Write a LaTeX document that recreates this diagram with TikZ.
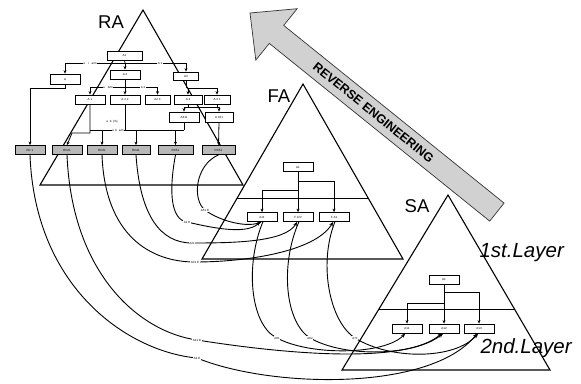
\documentclass[tikz,border=0pt]{standalone}
\usepackage{fontspec}
\setmainfont{Liberation Sans}
\usetikzlibrary{arrows.meta}
\begin{document}
\begin{tikzpicture}[x=1pt,y=-1pt,
  tri/.style={line width=1.1pt, line join=miter},
  layerline/.style={line width=0.8pt},
  blk/.style={draw, line width=0.8pt, fill=white, minimum width=30pt,
    minimum height=9pt, inner sep=0pt, font=\fontsize{3}{3}\selectfont},
  dotblk/.style={blk, fill=black!28},
  wire/.style={line width=0.8pt},
  link/.style={line width=0.8pt, -{Stealth[length=3.5pt,width=3pt]}},
  maparc/.style={line width=0.9pt, -{Stealth[length=4.5pt,width=3.5pt]}},
  tag/.style={fill=white, inner sep=0.6pt, font=\fontsize{3}{3}\selectfont},
  title/.style={font=\fontsize{18.5}{18.5}\selectfont},
  layername/.style={font=\itshape\fontsize{20.5}{20.5}\selectfont, anchor=base west}
]
\useasboundingbox[fill=white] (0,0) rectangle (581,383);

% reverse engineering block arrow
\draw[line width=0.7pt, draw=black!80, fill=black!18] (250,13) -- (297.2,8.7) -- (283.7,25.4)
  -- (504.1,203.1) -- (489.7,221.1) -- (269.3,43.4) -- (255.8,60.1) -- cycle;
\node[rotate=-38.9, font=\bfseries\fontsize{12.5}{12.5}\selectfont] (re) at (373.5,112.5) {REVERSE ENGINEERING};

% the three architecture pyramids
\draw[tri] (143,10) -- (40,185) -- (243,185) -- cycle;
\draw[tri] (303,84) -- (202,259) -- (403,259) -- cycle;
\draw[layerline] (237,198) -- (368,198);
\draw[tri] (448,195) -- (342,370) -- (550,370) -- cycle;
\draw[layerline] (379,309) -- (514,309);

\node[title] (ra) at (111,22) {RA};
\node[title] (fa) at (279,96) {FA};
\node[title] (sa) at (417,206) {SA};
\node[layername] (l1st) at (476,257) {1st.Layer};
\node[layername] (l2nd) at (477,353) {2nd.Layer};

% RA decomposition tree
\node[blk, minimum width=35pt] (t0) at (124.5,55.5) {A1};
\node[blk, minimum height=10pt] (l1) at (65,79) {A};
\node[blk] (a2) at (125,74.5) {A 2};
\node[blk, minimum width=25pt, minimum height=8pt] (r3) at (186,76) {A3};
\node[blk] (a21) at (90,99.5) {A 1};
\node[blk] (a22) at (125,99.5) {A 2 2};
\node[blk, minimum width=25pt] (a23) at (157.5,99.5) {A2 3};
\node[blk, minimum width=28pt] (a31) at (188,99.5) {A 3};
\node[blk, minimum width=26pt] (a32) at (217,99.5) {A 3 1};
\node[blk, minimum height=10pt] (a311) at (184,117) {A311};
\node[blk, minimum width=28pt, minimum height=10pt] (a321) at (219,117) {A 321};

\node[dotblk] (b1) at (30,150) {RC 1};
\node[dotblk] (b2) at (67,150) {RC21};
\node[dotblk] (b3) at (102,150) {RC31};
\node[dotblk, minimum width=28pt] (b4) at (136,150) {RC41};
\node[dotblk, minimum width=35pt] (b5) at (175.5,150) {RC51};
\node[dotblk, minimum width=33pt] (b6) at (218.5,150) {RC61};

\coordinate (t0j) at (125,63);
\draw[wire] (t0.south) -- (t0j);
\draw[wire] (l1.north |- t0j) -- (r3.north |- t0j);
\draw[link] (l1.north |- t0j) -- (l1.north);
\draw[link] (t0j) -- (a2.north);
\draw[link] (r3.north |- t0j) -- (r3.north);
\node[tag] at (90,63) {a\quad i\quad a/m};
\node[tag] at (160,63) {A 1};

\coordinate (a2j) at (125,87);
\draw[link] (a2.south) -- (a22.north);
\draw[wire] (a21.north |- a2j) -- (a23.north |- a2j);
\draw[link] (a21.north |- a2j) -- (a21.north);
\draw[link] (a23.north |- a2j) -- (a23.north);
\node[tag] at (108,87) {a\quad b/m};
\node[tag] at (143,87) {A 2};

\coordinate (r3j) at (188,88);
\draw[wire] (r3.south) -- (r3.south |- r3j);
\draw[wire] (a31.north |- r3j) -- (a32.north |- r3j);
\draw[link] (a31.north |- r3j) -- (a31.north);
\draw[link] (a32.north |- r3j) -- (a32.north);

\coordinate (a3j) at (188,107);
\draw[wire] (a31.south) -- (a3j);
\draw[wire] (a32.south) -- (a32.south |- a3j);
\draw[wire] (a311.north |- a3j) -- (a321.north |- a3j);
\draw[link] (a311.north |- a3j) -- (a311.north);
\draw[link] (a321.north |- a3j) -- (a321.north);

\coordinate (bj) at (125,130);
\draw[wire] (a311.south) -- (a311.south |- bj);
\draw[wire] (a22.south) -- (bj);
\draw[wire] (a21.south |- bj) -- (a311.south |- bj);
\draw[link] (b3.north |- bj) -- (b3.north);
\draw[link] (b4.north |- bj) -- (b4.north);
\draw[link] (b5.north |- bj) -- (b5.north);
\draw[link] (a21.south) -- (90,133) -- (72,133) -- (b2.north);
\draw[link] (a321.south) -- (b6.north);
\draw[link] (l1.south) -- ++(0,4) -| (b1.north);
\node[tag] at (112,122) {a\ \ b\ \ (m)};
\node[tag] at (118,130) {a\ \ b\ \ a/m};

% FA decomposition
\node[blk] (f0) at (298,167) {A1};
\node[blk] (f1) at (262,217) {A11};
\node[blk] (f2) at (298,217) {F A/V};
\node[blk] (f3) at (334,217) {F A1};
\coordinate (fj1) at (298,181);
\coordinate (fj2) at (298,190);
\draw[wire] (f0.south) -- (fj2);
\draw[link] (fj1) -| (f3.north);
\draw[link] (fj2) -| (f1.north);
\draw[link] (fj2) -- (f2.north);

% SA decomposition
\node[blk] (s0) at (444,279.5) {A1};
\node[blk] (s1) at (407,328.5) {A11};
\node[blk] (s2) at (444,328.5) {A12};
\node[blk] (s3) at (479,328.5) {A13};
\coordinate (sj1) at (444,292);
\coordinate (sj2) at (444,303);
\draw[wire] (s0.south) -- (sj2);
\draw[link] (sj1) -| (s3.north);
\draw[link] (sj2) -| (s1.north);
\draw[link] (sj2) -- (s2.north);

% RA components mapped onto FA and SA
\draw[maparc] (b1.south) .. controls (35,290) and (130,352) .. (197,358) node[tag] {A4 E}
  .. controls (270,388) and (430,392) .. (s3.-110);
\draw[maparc] (b2.south) .. controls (72,275) and (140,332) .. (197,340) node[tag] {A41 E}
  .. controls (260,350) and (400,368) .. (s2.-100);
\draw[maparc] (b3.south) .. controls (105,235) and (150,262) .. (195,262) node[tag] {A31 E}
  .. controls (245,262) and (315,252) .. (f3.-100);
\draw[maparc] (b4.south) .. controls (140,215) and (160,243) .. (192,243) node[tag] {A21}
  .. controls (235,243) and (285,242) .. (f2.-100);
\draw[maparc] (b5.south) .. controls (168,195) and (172,220) .. (187,222) node[tag] {A1 E}
  .. controls (205,226) and (245,236) .. (f1.-110);
\draw[maparc] (b6.south) .. controls (195,165) and (192,200) .. (205,210) node[tag] {A51 E}
  .. controls (218,220) and (245,228) .. (f1.-95);

% FA functions mapped onto SA
\draw[maparc] (f1.-80) .. controls (245,265) and (250,325) .. (277,338) node[tag] {A61}
  .. controls (310,356) and (385,355) .. (s1.-110);
\draw[maparc] (f2.-80) .. controls (280,265) and (285,322) .. (310,338) node[tag] {A62}
  .. controls (345,358) and (415,356) .. (s2.-115);
\draw[maparc] (f3.-80) .. controls (318,265) and (330,322) .. (355,338) node[tag] {A71}
  .. controls (390,360) and (455,360) .. (s3.-100);
\end{tikzpicture}
\end{document}
